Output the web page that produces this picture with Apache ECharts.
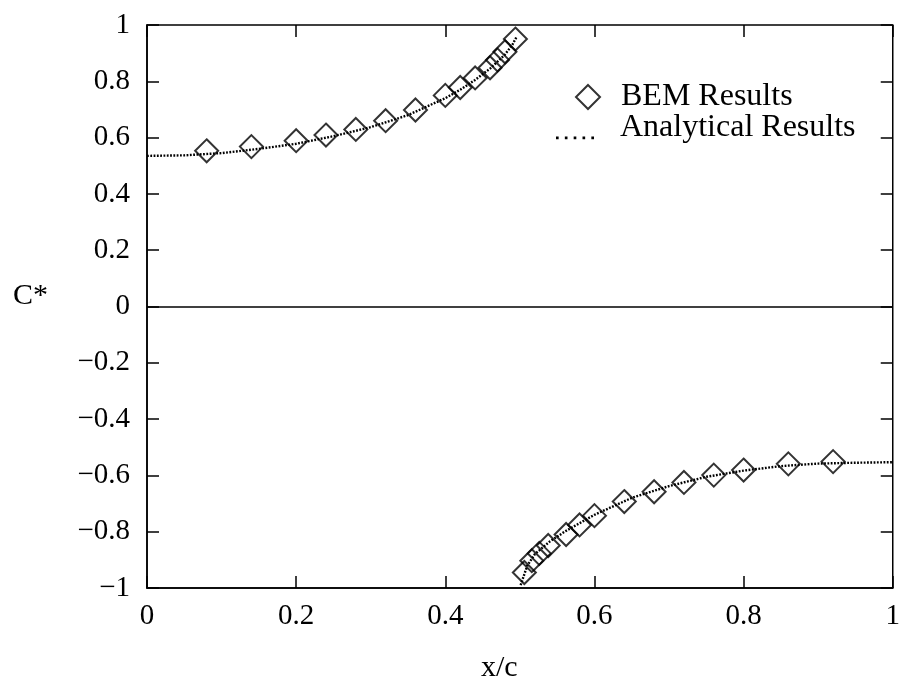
<!DOCTYPE html>
<html>
<head>
<meta charset="utf-8">
<script src="https://cdn.jsdelivr.net/npm/echarts@6/dist/echarts.min.js"></script>
<style>
html,body{margin:0;padding:0;background:#fff;}
#chart{width:903px;height:683px;}
</style>
</head>
<body>
<div id="chart"></div>
<script>
// BEM results (diamonds)
const bemUpperX = [0.08, 0.14, 0.20, 0.24, 0.28, 0.32, 0.36, 0.40, 0.42, 0.44, 0.46, 0.47, 0.48, 0.494];
const bemUpperY = [0.553, 0.568, 0.589, 0.609, 0.629, 0.660, 0.698, 0.750, 0.778, 0.812, 0.848, 0.876, 0.905, 0.950];
const bemLowerX = [0.506, 0.516, 0.526, 0.538, 0.562, 0.580, 0.600, 0.640, 0.680, 0.720, 0.760, 0.800, 0.860, 0.920];
const bemLowerY = [-0.945, -0.903, -0.877, -0.849, -0.810, -0.776, -0.743, -0.693, -0.658, -0.625, -0.599, -0.581, -0.559, -0.551];

// Analytical results (dotted curve)
const anaUpperX = [0, 0.05, 0.10, 0.15, 0.20, 0.25, 0.30, 0.35, 0.40, 0.42, 0.44, 0.46, 0.48, 0.49, 0.496];
const anaUpperY = [0.535, 0.537, 0.545, 0.560, 0.578, 0.605, 0.637, 0.680, 0.740, 0.770, 0.805, 0.845, 0.895, 0.930, 0.960];
const anaLowerX = [0.501, 0.51, 0.52, 0.54, 0.56, 0.60, 0.65, 0.70, 0.75, 0.80, 0.85, 0.90, 0.95, 1.0];
const anaLowerY = [-0.99, -0.92, -0.88, -0.835, -0.80, -0.74, -0.68, -0.638, -0.605, -0.583, -0.567, -0.558, -0.555, -0.553];

const xTicks = [0, 0.2, 0.4, 0.6, 0.8, 1];
const yTicks = [-1, -0.8, -0.6, -0.4, -0.2, 0, 0.2, 0.4, 0.6, 0.8, 1];

const seriesNames = ['BEM Results', 'Analytical Results'];
const xName = 'x/c';
const yName = 'C*';

const zip = (xs, ys) => xs.map((x, i) => [x, ys[i]]);
const FONT = '"Liberation Serif", "DejaVu Serif", serif';
const fmt = v => {
  const r = Math.round(v * 10) / 10;
  const s = String(Math.abs(r));
  return (r < 0 ? '\u2212' : '') + s;
};

const tickStyle = {show: true, inside: true, length: 12, lineStyle: {color: '#000', width: 1.5}};

const chart = echarts.init(document.getElementById('chart'), null, {renderer: 'canvas'});
chart.setOption({
  backgroundColor: '#fff',
  animation: false,
  grid: {left: 147, right: 6, top: 25, bottom: 95, show: true, borderColor: '#000', borderWidth: 1.5, backgroundColor: 'transparent'},
  xAxis: [
    {type: 'value', min: 0, max: 1, interval: 0.2, position: 'bottom',
     axisLine: {show: true, onZero: false, lineStyle: {color: '#000', width: 1.5}},
     axisTick: tickStyle, splitLine: {show: false},
     axisLabel: {color: '#000', fontFamily: FONT, fontSize: 29, margin: 14, formatter: fmt,
                 showMinLabel: true, showMaxLabel: true}},
    {type: 'value', min: 0, max: 1, interval: 0.2, position: 'top',
     axisLine: {show: false, onZero: false}, axisTick: tickStyle, splitLine: {show: false}, axisLabel: {show: false}}
  ],
  yAxis: [
    {type: 'value', min: -1, max: 1, interval: 0.2, position: 'left',
     axisLine: {show: true, onZero: false, lineStyle: {color: '#000', width: 1.5}},
     axisTick: tickStyle, splitLine: {show: false},
     axisLabel: {color: '#000', fontFamily: FONT, fontSize: 29, margin: 17, formatter: fmt,
                 showMinLabel: true, showMaxLabel: true}},
    {type: 'value', min: -1, max: 1, interval: 0.2, position: 'right',
     axisLine: {show: false, onZero: false}, axisTick: tickStyle, splitLine: {show: false}, axisLabel: {show: false}}
  ],
  legend: [
    {data: [seriesNames[0]], orient: 'vertical', left: 575, top: 81, padding: 0, itemWidth: 24, itemHeight: 24,
     textStyle: {color: '#000', fontFamily: FONT, fontSize: 32, padding: [0, 0, 0, 16]}},
    {data: [{name: seriesNames[1],
             icon: 'path://M0,-18h0v0zM0,0h2.4v2.4h-2.4zM8,0h2.4v2.4h-2.4zM16,0h2.4v2.4h-2.4zM24,0h2.4v2.4h-2.4zM32,0h2.4v2.4h-2.4z',
             itemStyle: {color: '#000', borderWidth: 0}}],
     orient: 'vertical', left: 556, top: 112, padding: 0, itemWidth: 38, itemHeight: 24, symbolKeepAspect: true,
     textStyle: {color: '#000', fontFamily: FONT, fontSize: 32, padding: [0, 0, 0, 21]}}
  ],
  graphic: [
    {type: 'text', left: 481, top: 653, style: {text: xName, font: '30px ' + FONT, fill: '#000'}},
    {type: 'text', left: 13, top: 281, style: {text: yName, font: '30px ' + FONT, fill: '#000'}}
  ],
  series: [
    {name: seriesNames[1], type: 'line', data: zip(anaUpperX, anaUpperY), showSymbol: false, symbol: 'none',
     lineStyle: {color: '#000', width: 2.4, type: [1.8, 1.5]}, itemStyle: {color: '#000'}, z: 3,
     markLine: {silent: true, symbol: 'none', label: {show: false},
                lineStyle: {color: '#000', width: 1.5, type: 'solid'}, data: [{yAxis: 0}]}},
    {name: seriesNames[1], type: 'line', data: zip(anaLowerX, anaLowerY), showSymbol: false, symbol: 'none',
     lineStyle: {color: '#000', width: 2.4, type: [1.8, 1.5]}, itemStyle: {color: '#000'}, z: 3},
    {name: seriesNames[0], type: 'scatter', data: zip(bemUpperX, bemUpperY), symbol: 'diamond', symbolSize: 23,
     itemStyle: {color: 'rgba(255,255,255,0)', borderColor: '#000', borderWidth: 2}, z: 4},
    {name: seriesNames[0], type: 'scatter', data: zip(bemLowerX, bemLowerY), symbol: 'diamond', symbolSize: 23,
     itemStyle: {color: 'rgba(255,255,255,0)', borderColor: '#000', borderWidth: 2}, z: 4}
  ]
});
</script>
</body>
</html>
